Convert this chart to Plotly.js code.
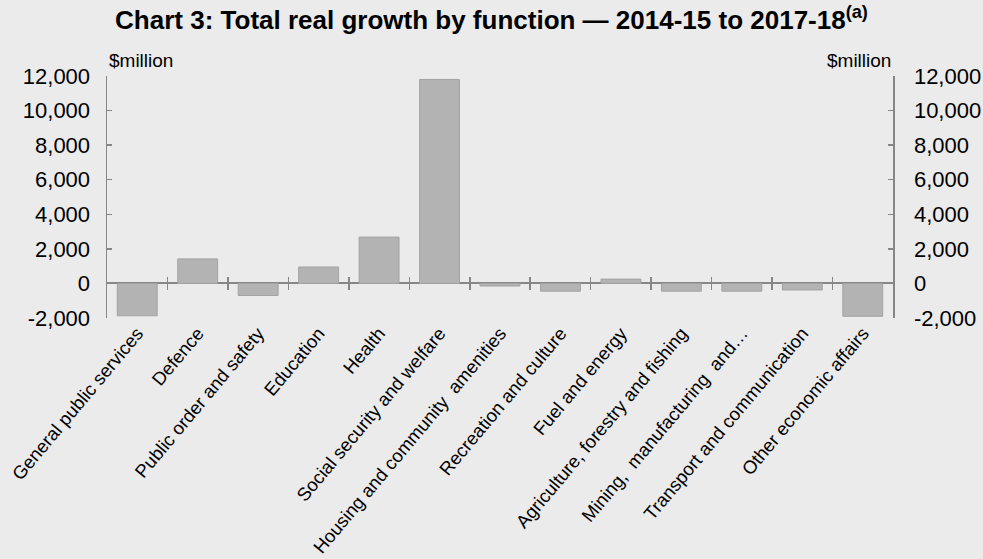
<!DOCTYPE html>
<html>
<head>
<meta charset="utf-8">
<script src="https://cdn.plot.ly/plotly-3.0.1.min.js"></script>
<style>html,body{margin:0;padding:0;background:#ebebeb;}#chart{width:983px;height:559px;}</style>
</head>
<body>
<div id="chart"></div>
<script>
const categories = [
  "General public services",
  "Defence",
  "Public order and safety",
  "Education",
  "Health",
  "Social security and welfare",
  "Housing and community  amenities",
  "Recreation and culture",
  "Fuel and energy",
  "Agriculture, forestry and fishing",
  "Mining,  manufacturing  and\u2026",
  "Transport and communication",
  "Other economic affairs"
];
const growth = [-1870, 1420, -700, 950, 2680, 11800, -150, -450, 250, -450, -450, -380, -1900];
const yRange = [-2000, 12000];
const yTickVals = [-2000, 0, 2000, 4000, 6000, 8000, 10000, 12000];
const yTickText = ["-2,000", "0", "2,000", "4,000", "6,000", "8,000", "10,000", "12,000"];
const unitLabel = "$million";
const chartTitle = "Chart 3: Total real growth by function \u2014 2014-15 to 2017-18<sup>(a)</sup>";

const axisColor = "#868686";
const boundaries = categories.slice(1).map((_, i) => i + 0.5);
const zeroPos = (0 - yRange[0]) / (yRange[1] - yRange[0]);
const FONT = "Arial, 'Liberation Sans', sans-serif";

const bars = {
  type: "bar",
  x: categories,
  y: growth,
  marker: {color: "#b3b3b3", line: {color: "#a3a3a3", width: 1}},
  hoverinfo: "x+y"
};
// empty helper traces so the overlay axes get drawn
const helperX2 = {type: "scatter", x: [], y: [], xaxis: "x2", yaxis: "y", hoverinfo: "skip", showlegend: false};
const helperX3 = {type: "scatter", x: [], y: [], xaxis: "x3", yaxis: "y", hoverinfo: "skip", showlegend: false};
const helperY2 = {type: "scatter", x: [], y: [], xaxis: "x", yaxis: "y2", hoverinfo: "skip", showlegend: false};

const crossAxis = (side) => ({
  overlaying: "x",
  anchor: "free",
  position: zeroPos,
  side: side,
  type: "linear",
  range: [-0.5, categories.length - 0.5],
  tickvals: boundaries,
  ticks: "outside",
  ticklen: 6,
  tickwidth: 1.5,
  tickcolor: axisColor,
  showticklabels: false,
  showline: false,
  showgrid: false,
  zeroline: false,
  fixedrange: true
});

const yCommon = {
  range: yRange,
  tickvals: yTickVals,
  ticktext: yTickText,
  ticks: "inside",
  ticklen: 5,
  tickwidth: 1.5,
  tickcolor: axisColor,
  showline: true,
  linecolor: axisColor,
  linewidth: 1.5,
  showgrid: false,
  tickfont: {size: 22, family: FONT}
};

const layout = {
  width: 983,
  height: 559,
  paper_bgcolor: "#ebebeb",
  plot_bgcolor: "#ebebeb",
  margin: {l: 107, r: 90, t: 76, b: 241},
  showlegend: false,
  bargap: 0.34,
  font: {family: FONT, color: "#000"},
  title: {
    text: chartTitle,
    x: 0.5, xref: "container", xanchor: "center",
    y: 1 - 11 / 559, yref: "container", yanchor: "top",
    font: {size: 26, family: FONT, weight: "bold", color: "#000"}
  },
  xaxis: {
    type: "category",
    tickangle: -50,
    tickfont: {size: 18.5, family: FONT},
    ticks: "",
    showline: false,
    showgrid: false,
    zeroline: false
  },
  xaxis2: crossAxis("bottom"),
  xaxis3: crossAxis("top"),
  yaxis: Object.assign({}, yCommon, {
    side: "left",
    ticklabelstandoff: 11,
    zeroline: true,
    zerolinecolor: axisColor,
    zerolinewidth: 2
  }),
  yaxis2: Object.assign({}, yCommon, {
    overlaying: "y",
    side: "right",
    anchor: "x",
    ticklabelstandoff: 15,
    zeroline: false
  }),
  annotations: [
    {text: unitLabel, xref: "paper", yref: "paper", x: 0, y: 1, xanchor: "left", yanchor: "bottom", yshift: 3, showarrow: false,
     font: {size: 19, family: FONT}},
    {text: unitLabel, xref: "paper", yref: "paper", x: 1, y: 1, xanchor: "right", yanchor: "bottom", yshift: 3, showarrow: false,
     font: {size: 19, family: FONT}}
  ]
};

Plotly.newPlot("chart", [bars, helperX2, helperX3, helperY2], layout, {displayModeBar: false, staticPlot: true});
</script>
</body>
</html>
